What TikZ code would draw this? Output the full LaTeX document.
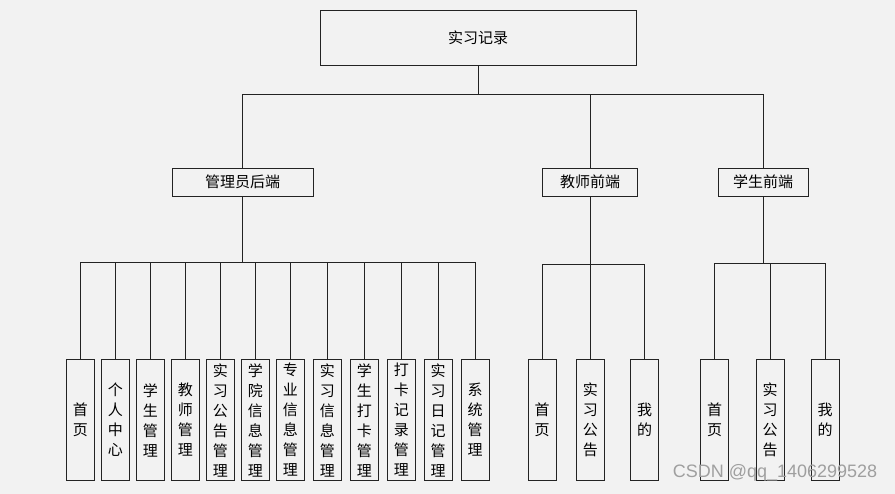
\documentclass[tikz,border=0pt]{standalone}
\usepackage{fontspec}
\setmainfont{Noto Sans CJK SC}
\newfontfamily\markfont{Liberation Sans}
\usepackage{xcolor}
\usetikzlibrary{positioning}
\definecolor{bgcol}{RGB}{242,242,242}
\definecolor{linecol}{RGB}{35,35,35}

\begin{document}
\begin{tikzpicture}[x=1pt,y=1pt,yscale=-1,xscale=1,
  box/.style={draw=linecol,line width=0.9pt,fill=bgcol,inner sep=0pt,font=\fontsize{15}{20}\selectfont},
  leaf/.style={box,minimum width=28pt,minimum height=121pt,align=center},
  link/.style={draw=linecol,line width=0.9pt}]
%background, sets the size of the diagram
\path[fill=bgcol] (0,0) rectangle (895,494);

% Root
\node[box,minimum width=316pt,minimum height=55pt] (root) at (478,37.5) {实习记录};
% Second level
\node[box,minimum width=141pt,minimum height=28pt] (admin) at (242.5,182) {管理员后端};
\node[box,minimum width=95pt,minimum height=28pt] (teacher) at (590,182) {教师前端};
\node[box,minimum width=90pt,minimum height=28pt] (student) at (763,182) {学生前端};

%Straight Lines: root to second level
\coordinate (bus) at (478,94);
\draw[link] (root.south) -- (bus);
\draw[link] (admin.north |- bus) -- (student.north |- bus);
\foreach \n in {admin,teacher,student}
  \draw[link] (\n.north) -- (\n.north |- bus);

% Admin leaves
\coordinate (abus) at (242.5,262);
\foreach \x/\n/\t in {80.3/a1/{首\\页},115.3/a2/{个\\人\\中\\心},150.3/a3/{学\\生\\管\\理},
    185.3/a4/{教\\师\\管\\理},220.3/a5/{实\\习\\公\\告\\管\\理},255.3/a6/{学\\院\\信\\息\\管\\理},
    290.3/a7/{专\\业\\信\\息\\管\\理},327.3/a8/{实\\习\\信\\息\\管\\理},364.3/a9/{学\\生\\打\\卡\\管\\理},
    401.3/a10/{打\\卡\\记\\录\\管\\理},438/a11/{实\\习\\日\\记\\管\\理},475/a12/{系\\统\\管\\理}}{
  \node[leaf] (\n) at (\x,420) {\t};
  \draw[link] (\n.north) -- (\n.north |- abus);
}
\draw[link] (admin.south) -- (abus);
\draw[link] (a1.north |- abus) -- (a12.north |- abus);

% Teacher leaves
\coordinate (tbus) at (590,264);
\node[leaf] (t1) at (542.2,420) {首\\页};
\node[leaf] (t2) at (590.3,420) {实\\习\\公\\告};
\node[leaf] (t3) at (644.7,420) {我\\的};
\draw[link] (teacher.south) -- (tbus);
\draw[link] (t1.north |- tbus) -- (t3.north |- tbus);
\foreach \n in {t1,t2,t3}
  \draw[link] (\n.north) -- (\n.north |- tbus);

% Student leaves
\coordinate (sbus) at (763,263);
\node[leaf] (s1) at (714.7,420) {首\\页};
\node[leaf] (s2) at (770,420) {实\\习\\公\\告};
\node[leaf] (s3) at (825,420) {我\\的};
\draw[link] (student.south) -- (sbus);
\draw[link] (s1.north |- sbus) -- (s3.north |- sbus);
\foreach \n in {s1,s2,s3}
  \draw[link] (\n.north) -- (\n.north |- sbus);

% Text Node: watermark
\node[font=\markfont\fontsize{18}{18}\selectfont,text=gray!75,inner sep=0pt] (mark) at (775,473) {CSDN @qq\_1406299528};

\end{tikzpicture}
\end{document}
